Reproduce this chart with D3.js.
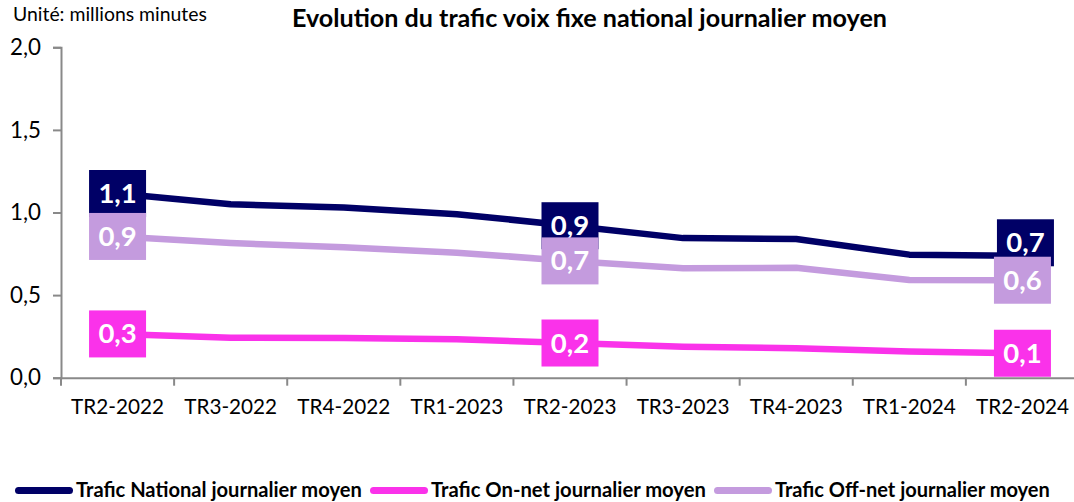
<!DOCTYPE html>
<html><head><meta charset="utf-8">
<script src="https://cdn.jsdelivr.net/npm/d3@7"></script>
<style>body{margin:0;background:#fff}svg{display:block}text{font-family:Lato,"Open Sans",sans-serif}</style>
</head><body>
<svg id="c" width="1074" height="502"></svg>
<script>
const categories = ["TR2-2022","TR3-2022","TR4-2022","TR1-2023","TR2-2023","TR3-2023","TR4-2023","TR1-2024","TR2-2024"];
const national = [1.115, 1.05, 1.03, 0.99, 0.92, 0.845, 0.84, 0.745, 0.738];
const onNet   = [0.265, 0.242, 0.24, 0.233, 0.21, 0.188, 0.178, 0.158, 0.148];
const offNet  = [0.855, 0.815, 0.79, 0.757, 0.707, 0.663, 0.665, 0.592, 0.59];
const yTicks = [0, 0.5, 1.0, 1.5, 2.0];
const labelIdx = [0, 4, 8];
const seriesNames = ["Trafic National journalier moyen","Trafic On-net journalier moyen","Trafic Off-net journalier moyen"];
const colors = ["#000066","#FA32EA","#C49BDE"];
const title = "Evolution du trafic voix fixe national journalier moyen";
const unit = "Unité: millions minutes";

const series = [national, onNet, offNet];
const svg = d3.select("#c");
const fr = d3.formatLocale({decimal:",",thousands:" ",grouping:[3],currency:["",""]});
const f1 = fr.format(".1f");

// scale a text's font-size so that its width matches a target width
function fitWidth(sel, target) {
  const fs = +sel.attr("font-size");
  const w = sel.node().getComputedTextLength();
  if (w > 0) sel.attr("font-size", fs * target / w);
  return sel;
}

const x = d3.scaleBand().domain(categories).range([61, 1079]).padding(0);
const y = d3.scaleLinear().domain([0, 2]).range([377.7, 47.3]);
const cx = c => x(c) + x.bandwidth()/2;
const axisCol = "#898989";

// title & unit
fitWidth(svg.append("text").attr("x", 589.5).attr("y", 26.5).attr("text-anchor","middle")
  .attr("font-weight","bold").attr("font-size",20).attr("fill","#000").text(title), 595);
fitWidth(svg.append("text").attr("x", 13).attr("y", 20.5).attr("font-size",16.5).attr("fill","#000").text(unit), 194);

// y axis
const yAxis = d3.axisLeft(y).tickValues(yTicks).tickFormat(f1).tickSizeOuter(0).tickSize(8).tickPadding(12);
const gy = svg.append("g").attr("transform","translate(61,0)").call(yAxis);
gy.select(".domain").attr("stroke",axisCol).attr("stroke-width",2);
gy.selectAll(".tick line").attr("stroke",axisCol).attr("stroke-width",2);
gy.selectAll(".tick text").attr("font-size",20).attr("fill","#000").attr("font-family","Lato,sans-serif");
{
  const t = gy.select(".tick:last-of-type text");
  const w = t.node().getComputedTextLength();
  gy.selectAll(".tick text").attr("font-size", 20 * 31 / w).attr("dx", 0);
}

// x axis
const xAxis = d3.axisBottom(x).tickSize(0).tickPadding(22).tickSizeOuter(0);
const gx = svg.append("g").attr("transform",`translate(0,${y(0)})`).call(xAxis);
gx.select(".domain").attr("stroke",axisCol).attr("stroke-width",2);
gx.selectAll(".tick text").attr("font-size",19).attr("fill","#000").attr("font-family","Lato,sans-serif");
{
  const t = gx.select(".tick:last-of-type text");
  const w = t.node().getComputedTextLength();
  gx.selectAll(".tick text").attr("font-size", 19 * 93 / w);
}
gx.selectAll(".bt").data(categories).enter().append("line")
  .attr("x1", d => x(d)).attr("x2", d => x(d)).attr("y1",0).attr("y2",8)
  .attr("stroke",axisCol).attr("stroke-width",2);

// lines
const line = d3.line().x((d,i) => cx(categories[i])).y(d => y(d));
series.forEach((s, k) => {
  svg.append("path").datum(s).attr("d", line).attr("fill","none")
    .attr("stroke", colors[k]).attr("stroke-width", 6.5).attr("stroke-linejoin","round");
});

// labels (national shifted at the last point to avoid overlap)
const bw = 57, bh = 47;
series.forEach((s, k) => {
  labelIdx.forEach(i => {
    let px = cx(categories[i]), py = y(s[i]);
    if (k === 0 && i === categories.length - 1) { px += 3; py -= 13; }
    const g = svg.append("g").attr("transform", `translate(${px},${py})`);
    g.append("rect").attr("x",-bw/2).attr("y",-bh/2).attr("width",bw).attr("height",bh).attr("fill",colors[k]);
    g.append("text").attr("text-anchor","middle").attr("y",9.5).attr("font-size",27.5)
      .attr("font-weight","bold").attr("fill","#fff").text(f1(s[i]));
  });
});

// legend
const lg = svg.append("g").attr("transform","translate(0,490.5)");
const legendTextW = [286, 275, 275];
let lx = 15;
seriesNames.forEach((n, k) => {
  lg.append("line").attr("x1", lx+3.5).attr("x2", lx+54.5).attr("y1",0).attr("y2",0)
    .attr("stroke", colors[k]).attr("stroke-width", 7).attr("stroke-linecap","round");
  const t = lg.append("text").attr("x", lx+61).attr("y", 6.2).attr("font-size",16.5)
    .attr("font-weight","bold").attr("fill","#000").text(n);
  fitWidth(t, legendTextW[k]);
  lx += 61 + legendTextW[k] + 8;
});
</script>
</body></html>
